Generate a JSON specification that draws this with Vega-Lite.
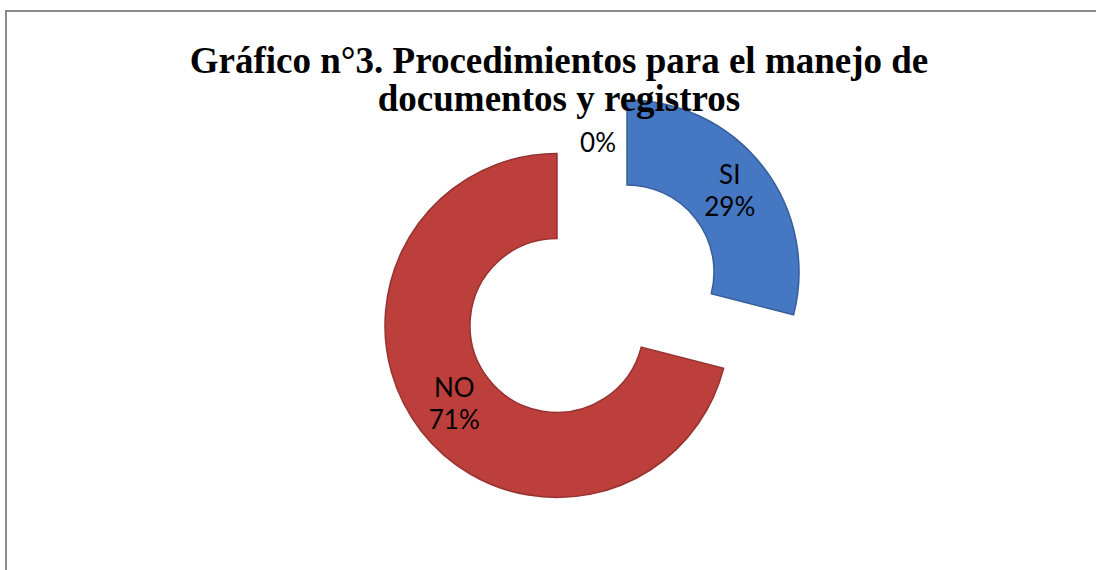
{
  "$schema": "https://vega.github.io/schema/vega-lite/v6.json",
  "width": 1100,
  "height": 569,
  "autosize": {"type": "none"},
  "padding": {"left": 6, "top": 11, "right": -10, "bottom": -10},
  "background": "white",
  "view": {"stroke": "#8c8c8c", "strokeWidth": 2, "fill": "white"},
  "config": {"view": {"stroke": "#8c8c8c", "strokeWidth": 2}},
  "title": {
    "text": ["Gráfico n°3. Procedimientos para el manejo de", "documentos y registros"],
    "font": "Liberation Serif",
    "fontSize": 37,
    "fontWeight": "bold",
    "color": "#000000",
    "anchor": "middle",
    "lineHeight": 38,
    "dx": 3,
    "dy": 112
  },
  "data": {
    "values": [
      {"respuesta": "SI", "proporcion": 0.29, "orden": 1},
      {"respuesta": "NO", "proporcion": 0.71, "orden": 2},
      {"respuesta": "", "proporcion": 0, "orden": 3}
    ]
  },
  "encoding": {
    "theta": {"field": "proporcion", "type": "quantitative", "stack": true},
    "order": {"field": "orden", "type": "quantitative"},
    "color": {
      "field": "respuesta",
      "type": "nominal",
      "scale": {"domain": ["SI", "NO", ""], "range": ["#4577C2", "#BD3F3B", "#9BBB59"]},
      "legend": null
    }
  },
  "layer": [
    {
      "mark": {"type": "arc", "radius": 172, "radius2": 87, "xOffset": 71, "yOffset": -23.5, "stroke": "#365F9C", "strokeWidth": 1.5},
      "encoding": {"opacity": {"condition": {"test": "datum.respuesta === 'SI'", "value": 1}, "value": 0}}
    },
    {
      "mark": {"type": "arc", "radius": 172, "radius2": 87, "xOffset": 1, "yOffset": 30, "stroke": "#963230", "strokeWidth": 1.5},
      "encoding": {"opacity": {"condition": {"test": "datum.respuesta === 'NO'", "value": 1}, "value": 0}}
    },
    {
      "mark": {"type": "text", "radius": 130, "xOffset": 71, "yOffset": -23.5, "dy": -16, "font": "Lato", "fontSize": 26},
      "encoding": {
        "text": {"field": "respuesta", "type": "nominal"},
        "color": {"value": "#000000"},
        "opacity": {"condition": {"test": "datum.respuesta === 'SI'", "value": 1}, "value": 0}
      }
    },
    {
      "mark": {"type": "text", "radius": 130, "xOffset": 71, "yOffset": -23.5, "dy": 16, "font": "Lato", "fontSize": 26},
      "encoding": {
        "text": {"field": "proporcion", "type": "quantitative", "format": ".0%"},
        "color": {"value": "#000000"},
        "opacity": {"condition": {"test": "datum.respuesta === 'SI'", "value": 1}, "value": 0}
      }
    },
    {
      "mark": {"type": "text", "radius": 130, "xOffset": 1, "yOffset": 30, "dy": -16, "font": "Lato", "fontSize": 26},
      "encoding": {
        "text": {"field": "respuesta", "type": "nominal"},
        "color": {"value": "#000000"},
        "opacity": {"condition": {"test": "datum.respuesta === 'NO'", "value": 1}, "value": 0}
      }
    },
    {
      "mark": {"type": "text", "radius": 130, "xOffset": 1, "yOffset": 30, "dy": 16, "font": "Lato", "fontSize": 26},
      "encoding": {
        "text": {"field": "proporcion", "type": "quantitative", "format": ".0%"},
        "color": {"value": "#000000"},
        "opacity": {"condition": {"test": "datum.respuesta === 'NO'", "value": 1}, "value": 0}
      }
    },
    {
      "mark": {"type": "text", "radius": 152, "xOffset": 42, "font": "Lato", "fontSize": 26},
      "encoding": {
        "text": {"field": "proporcion", "type": "quantitative", "format": ".0%"},
        "color": {"value": "#000000"},
        "opacity": {"condition": {"test": "datum.respuesta === ''", "value": 1}, "value": 0}
      }
    }
  ]
}
